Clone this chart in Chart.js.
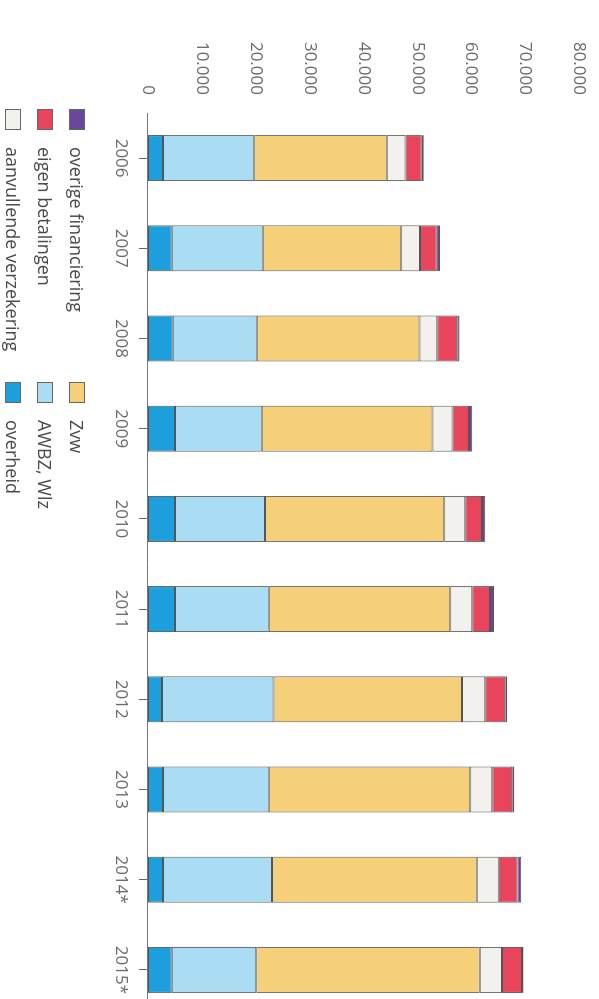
<!DOCTYPE html>
<html>
<head>
<meta charset="utf-8">
<script src="https://cdn.jsdelivr.net/npm/chart.js@4"></script>
<style>
html, body { margin: 0; padding: 0; background: #fff; overflow: hidden; width: 599px; height: 999px; }
/* the chart is drawn landscape and turned a quarter clockwise */
#wrap { position: absolute; left: 0; top: 0; width: 1015px; height: 599px; transform-origin: 0 0; transform: translateX(599px) rotate(90deg); }
#costChart { position: absolute; left: 0; top: 0; }
#legend { position: absolute; left: 0; top: 0; font-family: 'Open Sans', sans-serif; font-size: 18px; color: #4a4a4a; }
.item { position: absolute; display: flex; align-items: center; height: 20px; white-space: nowrap; }
.box { width: 19px; height: 14px; border: 1px solid #666; margin-right: 17px; }
</style>
</head>
<body>
<div id="wrap">
  <canvas id="costChart" width="1015" height="599"></canvas>
  <div id="legend"></div>
</div>
<script>
const years = ['2006', '2007', '2008', '2009', '2010', '2011', '2012', '2013', '2014*', '2015*'];

// bedragen in miljoen euro, van onder naar boven gestapeld
const overheid   = [2800, 4400, 4600, 5000, 5000, 5000, 2600, 2800, 2800, 4400];
const awbzWlz    = [16900, 16900, 15600, 16100, 16700, 17400, 20700, 19600, 20200, 15700];
const zvw        = [24600, 25700, 30200, 31700, 33300, 33700, 35000, 37400, 38000, 41500];
const aanvullend = [3500, 3500, 3300, 3700, 3900, 4100, 4300, 4100, 4100, 4100];
const eigen      = [3000, 3100, 3700, 3100, 3100, 3300, 3700, 3700, 3500, 3700];
const overig     = [400, 600, 400, 600, 600, 700, 400, 400, 700, 300];

const valueTicks = [0, 10000, 20000, 30000, 40000, 50000, 60000, 70000, 80000];

const series = [
    { label: 'overheid', data: overheid, color: '#1c9fdc' },
    { label: 'AWBZ, Wlz', data: awbzWlz, color: '#aadcf3' },
    { label: 'Zvw', data: zvw, color: '#f5d079' },
    { label: 'aanvullende verzekering', data: aanvullend, color: '#f3f1ee' },
    { label: 'eigen betalingen', data: eigen, color: '#e8445c' },
    { label: 'overige financiering', data: overig, color: '#6a479c' }
];

function fmt(v) {
    return String(v).replace(/\B(?=(\d{3})+(?!\d))/g, '.');
}

const axisFont = { family: "'Open Sans', sans-serif", size: 17 };

const ctx = document.getElementById('costChart').getContext('2d');
const costChart = new Chart(ctx, {
    type: 'bar',
    data: {
        labels: years,
        datasets: series.map(s => ({
            label: s.label,
            data: s.data,
            backgroundColor: s.color,
            borderColor: '#555',
            borderWidth: 1,
            borderSkipped: false,
            barPercentage: 0.51,
            categoryPercentage: 1
        }))
    },
    options: {
        responsive: false,
        animation: false,
        layout: { padding: { top: 20, right: 0, bottom: 0, left: 0 } },
        plugins: {
            legend: { display: false },
            tooltip: { enabled: false }
        },
        scales: {
            x: {
                stacked: true,
                offset: true,
                afterFit: scale => { scale.height = 148; },
                grid: { display: true, drawOnChartArea: false, drawTicks: true, tickLength: 9, offset: false, color: '#666' },
                border: { display: true, color: '#777', width: 1 },
                ticks: { color: '#6b6b6b', font: axisFont, padding: 8, maxRotation: 0, autoSkip: false }
            },
            y: {
                stacked: true,
                min: 0,
                max: 80000,
                afterFit: scale => {
                    scale.width = 113;
                    scale.paddingTop = 0;
                    scale.paddingBottom = 0;
                },
                afterBuildTicks: scale => { scale.ticks = valueTicks.map(v => ({ value: v })); },
                grid: { display: false, drawTicks: false },
                border: { display: false },
                ticks: { color: '#6b6b6b', font: axisFont, padding: 18, callback: v => fmt(v) }
            }
        }
    }
});

// legenda: twee kolommen, bovenste lagen links
const legend = document.getElementById('legend');
const order = series.slice().reverse();
const colLeft = [109, 382];
const rowMid = [522, 554, 586];
order.forEach((s, i) => {
    const item = document.createElement('div');
    item.className = 'item';
    item.style.left = colLeft[Math.floor(i / 3)] + 'px';
    item.style.top = (rowMid[i % 3] - 10) + 'px';
    const box = document.createElement('span');
    box.className = 'box';
    box.style.background = s.color;
    const txt = document.createElement('span');
    txt.textContent = s.label;
    item.appendChild(box);
    item.appendChild(txt);
    legend.appendChild(item);
});
</script>
</body>
</html>
